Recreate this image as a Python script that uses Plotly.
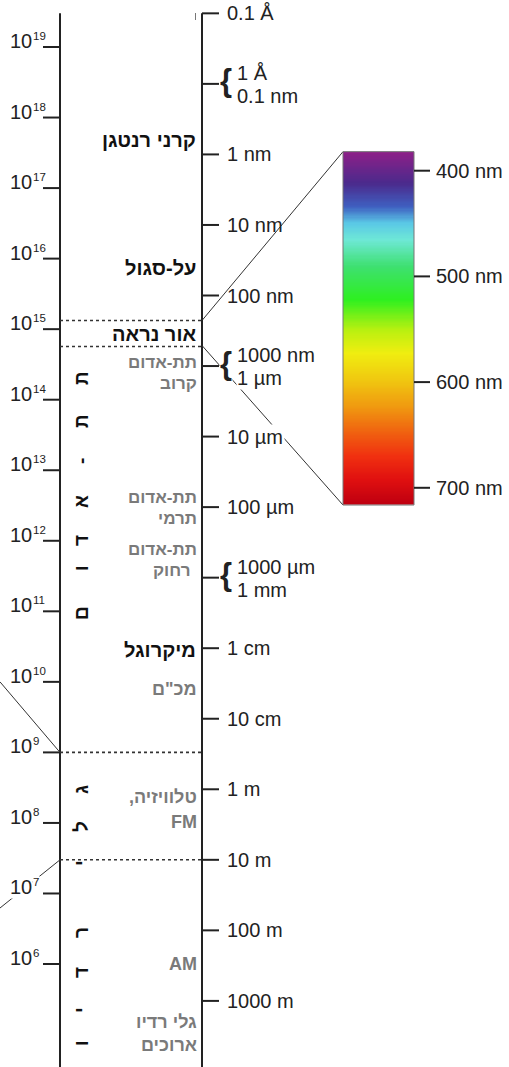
import numpy as np
import plotly.graph_objects as go

W, H = 509, 1067
C_LIGHT = 3e8

# ---------------- data ----------------
freq_exp = [19, 18, 17, 16, 15, 14, 13, 12, 11, 10, 9, 8, 7, 6]

wl_m = [1e-11, 1e-9, 1e-8, 1e-7, 1e-5, 1e-4, 1e-2, 1e-1, 1.0, 10.0, 100.0, 1000.0]
wl_text = ["0.1 Å", "1 nm", "10 nm", "100 nm", "10 µm", "100 µm", "1 cm",
           "10 cm", "1 m", "10 m", "100 m", "1000 m"]
brace_m = [1e-10, 1e-6, 1e-3]
brace_upper = ["1 Å", "1000 nm", "1000 µm"]
brace_lower = ["0.1 nm", "1 µm", "1 mm"]

vis_ticks_nm = [400, 500, 600, 700]
vis_span_nm = [382.0, 716.3]
spec_nm = [382.0, 383.5, 411.9, 434.0, 449.8, 465.6, 490.8, 522.3, 550.7, 572.8,
           598.0, 623.3, 648.4, 670.6, 692.6, 714.7, 716.3]
spec_colors = ["#8b2088", "#8b2088", "#4b2a8c", "#3f5fc0", "#5ac8e6", "#6ee8d6",
               "#3ee070", "#2ef020", "#b8f010", "#f0ee10", "#f0c810", "#f09a10",
               "#f06010", "#f03010", "#e01010", "#c00010", "#c00010"]

# band boundaries, log10(frequency / Hz)
bound_uv_vis = 15.123
bound_vis_ir = 14.754
bound_mw_radio = 9.0
bound_radio_long = float(np.log10(C_LIGHT / 10.0))

band_main = ["קרני רנטגן", "על-סגול", "אור נראה", "מיקרוגל"]
band_main_logf = [17.682, 15.867, 14.931, 10.452]

# infra-red sub-bands: two-line labels, centred on these frequencies
ir_upper = ["תת-אדום", "תת-אדום", "תת-אדום"]
ir_lower = ["קרוב", "תרמי", "רחוק"]
ir_logf = [14.385, 12.458, 11.727]

RLM = "\u200f"
band_sub = ["מכ\"ם", "טלוויזיה," + RLM, "FM", "AM", "גלי רדיו", "ארוכים"]
band_sub_logf = [9.899, 8.368, 8.013, 6.000, 5.178, 4.852]

vert_word_1 = ["ת", "ת", "-", "א", "ד", "ו", "ם"]
vert_word_1_logf = [14.307, 13.697, 13.130, 12.549, 11.996, 11.613, 10.975]
vert_word_2 = ["ג", "ל", "י", "ר", "ד", "י", "ו"]
vert_word_2_logf = [8.466, 7.941, 7.431, 6.438, 5.871, 5.347, 4.879]

# ---------------- layout helpers (screen geometry) ----------------
PX_PER_DEC = 70.54
Y_AT_19 = 47.0
L_TOP = 19 + Y_AT_19 / PX_PER_DEC
L_BOT = 19 - (H - Y_AT_19) / PX_PER_DEC


def px2L(px):
    return 19 - (px - Y_AT_19) / PX_PER_DEC


NM_PX = 1.057
PX_AT_400 = 170.7
NM_TOP = 400 - PX_AT_400 / NM_PX
NM_BOT = 400 + (H - PX_AT_400) / NM_PX


def nm2L(nm):
    return px2L(PX_AT_400 + (nm - 400) * NM_PX)


def wl2L(m):
    return float(np.log10(C_LIGHT / m))


X_LEFT, X_RIGHT = 60, 202
BOX_X0, BOX_X1 = 343, 414
FONT = "Liberation Sans, Arial, sans-serif"
AX = "#222222"
GRAY = "#7a7a7a"

fig = go.Figure()

# visible spectrum gradient
edges = np.linspace(vis_span_nm[0], vis_span_nm[1], 301)
mids = (edges[:-1] + edges[1:]) / 2
cs = [[(n - vis_span_nm[0]) / (vis_span_nm[1] - vis_span_nm[0]), c]
      for n, c in zip(spec_nm, spec_colors)]
fig.add_trace(go.Heatmap(
    x=[BOX_X0, BOX_X1], y=edges, z=mids.reshape(-1, 1),
    zmin=vis_span_nm[0], zmax=vis_span_nm[1], colorscale=cs,
    showscale=False, hoverinfo="skip", yaxis="y2", xaxis="x"))

shapes = []
ann = []


def line(x0, y0, x1, y1, yref="y", width=2, color=AX, dash="solid"):
    shapes.append(dict(type="line", xref="x", yref=yref, x0=x0, y0=y0, x1=x1, y1=y1,
                       line=dict(color=color, width=width, dash=dash), layer="above"))


top_L = wl2L(wl_m[0])
# main vertical axes
line(X_LEFT, top_L, X_LEFT, L_BOT)
line(X_RIGHT, top_L, X_RIGHT, L_BOT)
# small mark near the top
line(195.5, px2L(13), 195.5, px2L(20), width=1, color="#777")

# frequency ticks + labels (base "10" and exponent as separate texts)
for e in freq_exp:
    line(43, e, X_LEFT, e)
    bg = dict(bgcolor="white") if e == 7 else {}
    ann.append(dict(x=32.5, y=e, xanchor="right", yanchor="middle", yshift=6,
                    text="10", font=dict(size=20, color=AX, family=FONT),
                    borderpad=0, **bg))
    ann.append(dict(x=32, y=e, xanchor="left", yanchor="middle", yshift=11,
                    text=str(e), font=dict(size=11.5, color=AX, family=FONT),
                    borderpad=0, **bg))

# wavelength ticks + labels
for m, t in zip(wl_m, wl_text):
    L = wl2L(m)
    line(X_RIGHT, L, 219, L)
    bg = dict(bgcolor="white") if t == "10 µm" else {}
    ann.append(dict(x=225, y=L, xanchor="left", yanchor="middle", text=t,
                    font=dict(size=20, color=AX, family=FONT), borderpad=1, **bg))

for m, tu, tl in zip(brace_m, brace_upper, brace_lower):
    L = wl2L(m)
    line(X_RIGHT, L, 219, L)
    ann.append(dict(x=226, y=L, xanchor="center", yanchor="middle", yshift=3,
                    text="<b>{</b>", font=dict(size=31, color=AX, family=FONT),
                    bgcolor="white", borderpad=0))
    ann.append(dict(x=236, y=L, xanchor="left", yanchor="middle", yshift=11,
                    text=tu, font=dict(size=20, color=AX, family=FONT),
                    bgcolor="white", borderpad=0))
    ann.append(dict(x=236, y=L, xanchor="left", yanchor="middle", yshift=-12,
                    text=tl, font=dict(size=20, color=AX, family=FONT),
                    bgcolor="white", borderpad=0))

# dotted band boundaries
for b in [bound_uv_vis, bound_vis_ir, bound_mw_radio, bound_radio_long]:
    line(X_LEFT, b, X_RIGHT, b, width=1.6, color="#333", dash="dot")

# connectors to the visible spectrum
line(X_RIGHT, bound_uv_vis, BOX_X0, nm2L(vis_span_nm[0]), width=1, color="#333")
line(X_RIGHT, px2L(345.5), BOX_X0, nm2L(vis_span_nm[1]), width=1, color="#333")
# connectors leaving the radio band to the left
line(X_LEFT, bound_mw_radio, 0, 10.0, width=1, color="#333")
line(X_LEFT, bound_radio_long, 0, px2L(908), width=1, color="#333")

# spectrum box and its ticks
shapes.append(dict(type="rect", xref="x", yref="y2", x0=BOX_X0, x1=BOX_X1,
                   y0=vis_span_nm[0], y1=vis_span_nm[1],
                   line=dict(color="#777", width=1), layer="above"))
for n in vis_ticks_nm:
    line(BOX_X1, n, 430, n, yref="y2")
    ann.append(dict(x=434, y=n, yref="y2", xanchor="left", yanchor="middle",
                    text=f"{n} nm", font=dict(size=20, color=AX, family=FONT)))

# band names
for t, L in zip(band_main, band_main_logf):
    ann.append(dict(x=198, y=L, xanchor="right", yanchor="middle", text=f"<b>{t}</b>",
                    font=dict(size=20, color="#111", family=FONT)))

for i, (tu, tl, L) in enumerate(zip(ir_upper, ir_lower, ir_logf)):
    ann.append(dict(x=198, y=L, xanchor="right", yanchor="bottom", text=f"<b>{tu}</b>",
                    borderpad=0, font=dict(size=17, color=GRAY, family=FONT)))
    ann.append(dict(x=198, y=L, xanchor="right", yanchor="top", text=f"<b>{tl}</b>",
                    borderpad=0, xshift=-7 if i == 2 else 0,
                    font=dict(size=17, color=GRAY, family=FONT)))

for t, L in zip(band_sub, band_sub_logf):
    ann.append(dict(x=198, y=L, xanchor="right", yanchor="middle", text=f"<b>{t}</b>",
                    borderpad=0, font=dict(size=18, color=GRAY, family=FONT)))

# vertical words inside the left column
for letters, Ls in [(vert_word_1, vert_word_1_logf), (vert_word_2, vert_word_2_logf)]:
    for ch, L in zip(letters, Ls):
        ann.append(dict(x=81, y=L, xanchor="center", yanchor="middle", text=f"<b>{ch}</b>",
                        textangle=-90, font=dict(size=19, color="#111", family=FONT)))

for a in ann:
    a.setdefault("xref", "x")
    a.setdefault("yref", "y")
    a["showarrow"] = False

fig.update_layout(
    width=W, height=H, autosize=False,
    margin=dict(l=0, r=0, t=0, b=0, pad=0),
    paper_bgcolor="white", plot_bgcolor="white",
    showlegend=False,
    xaxis=dict(range=[0, W], visible=False, fixedrange=True),
    yaxis=dict(range=[L_BOT, L_TOP], visible=False, fixedrange=True),
    yaxis2=dict(range=[NM_BOT, NM_TOP], visible=False, fixedrange=True,
                overlaying="y"),
    shapes=shapes, annotations=ann,
)

fig.write_html("out.html", config={"displayModeBar": False},
               post_script="document.body.style.margin='0';document.body.style.overflow='hidden';")
